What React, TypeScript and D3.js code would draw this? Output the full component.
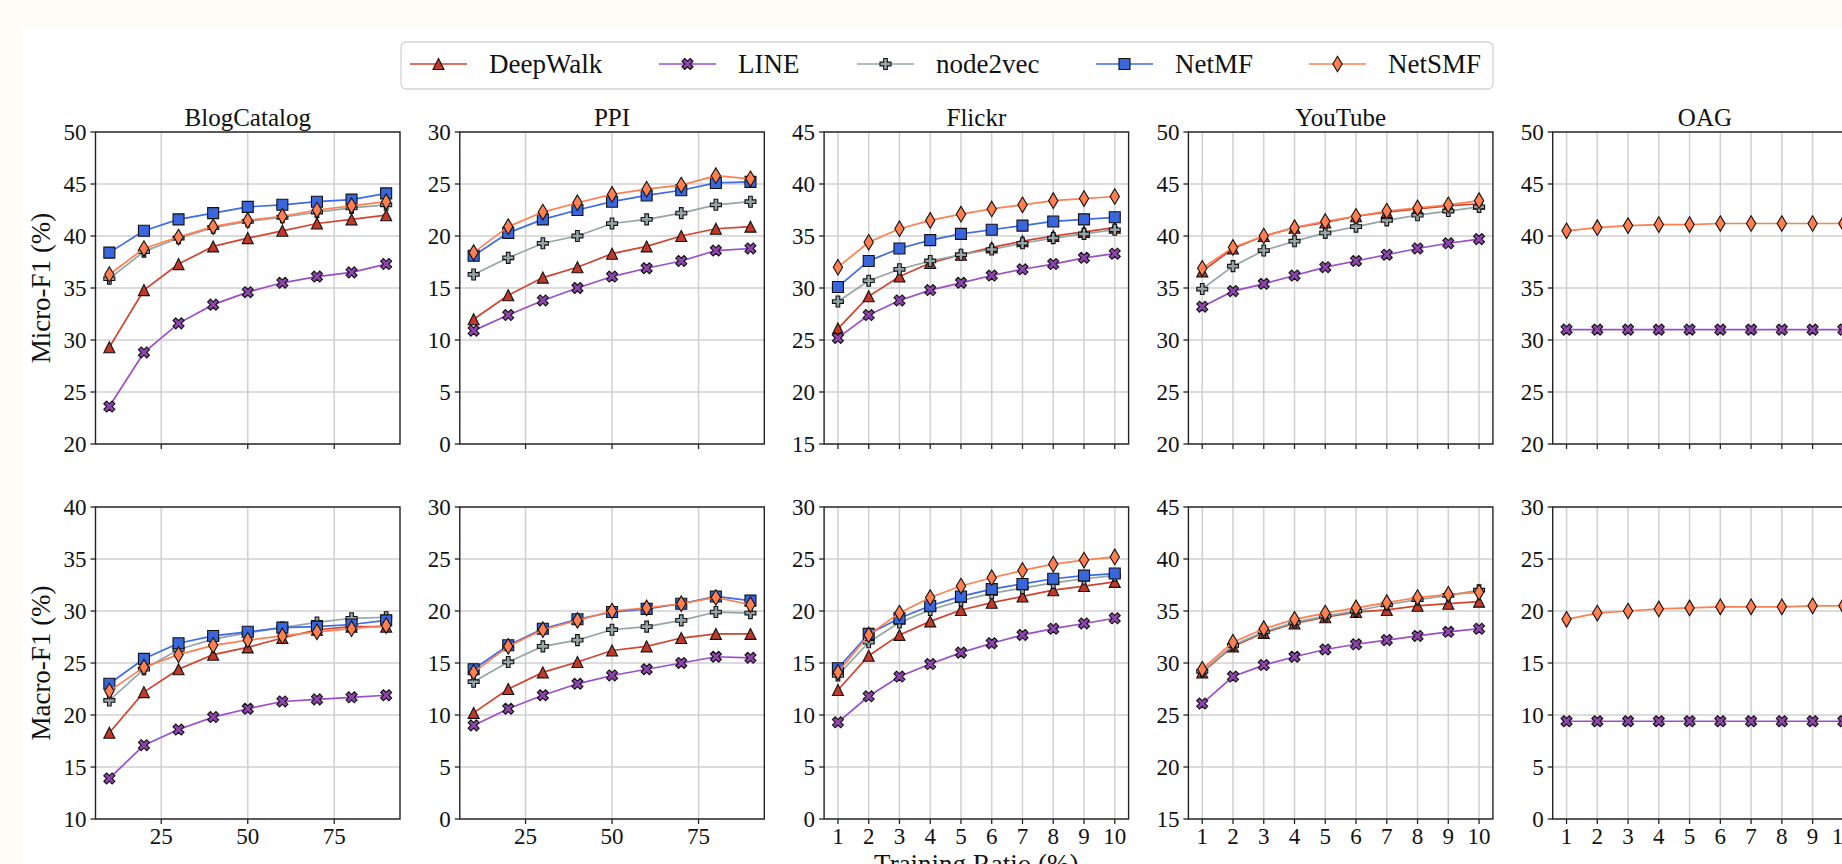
import React from "react";
import * as d3 from "d3";

// ---------- data ----------
const METHODS = ["DeepWalk", "LINE", "node2vec", "NetMF", "NetSMF"];
const DATASETS = ["BlogCatalog", "PPI", "Flickr", "YouTube", "OAG"];
const RATIO_LARGE = [10, 20, 30, 40, 50, 60, 70, 80, 90];
const RATIO_SMALL = [1, 2, 3, 4, 5, 6, 7, 8, 9, 10];
const TICKS_LARGE = [25, 50, 75];
const TICKS_SMALL = [1, 2, 3, 4, 5, 6, 7, 8, 9, 10];

const MICRO_Y_RANGES = [[20, 50], [0, 30], [15, 45], [20, 50], [20, 50]];
const MACRO_Y_RANGES = [[10, 40], [0, 30], [0, 30], [15, 45], [0, 30]];
const MICRO_Y_TICKS = [
  [20, 25, 30, 35, 40, 45, 50],
  [0, 5, 10, 15, 20, 25, 30],
  [15, 20, 25, 30, 35, 40, 45],
  [20, 25, 30, 35, 40, 45, 50],
  [20, 25, 30, 35, 40, 45, 50],
];
const MACRO_Y_TICKS = [
  [10, 15, 20, 25, 30, 35, 40],
  [0, 5, 10, 15, 20, 25, 30],
  [0, 5, 10, 15, 20, 25, 30],
  [15, 20, 25, 30, 35, 40, 45],
  [0, 5, 10, 15, 20, 25, 30],
];

// series order: DeepWalk, LINE, node2vec, NetMF, NetSMF (null = not run)
const blogCatalogMicro = [
  [29.3, 34.8, 37.3, 39.0, 39.8, 40.5, 41.2, 41.6, 42.0],
  [23.6, 28.8, 31.6, 33.4, 34.6, 35.5, 36.1, 36.5, 37.3],
  [35.9, 38.5, 39.8, 40.8, 41.4, 41.8, 42.3, 42.7, 43.0],
  [38.4, 40.5, 41.6, 42.2, 42.8, 43.0, 43.3, 43.5, 44.1],
  [36.3, 38.8, 39.9, 40.9, 41.5, 41.9, 42.5, 42.9, 43.3],
];
const ppiMicro = [
  [12.0, 14.3, 16.0, 17.0, 18.3, 19.0, 20.0, 20.7, 20.9],
  [10.9, 12.4, 13.8, 15.0, 16.1, 16.9, 17.6, 18.6, 18.8],
  [16.3, 17.9, 19.3, 20.0, 21.2, 21.6, 22.2, 23.0, 23.3],
  [18.1, 20.3, 21.6, 22.5, 23.3, 23.9, 24.4, 25.1, 25.2],
  [18.4, 20.9, 22.3, 23.2, 24.0, 24.5, 24.9, 25.8, 25.5],
];
const flickrMicro = [
  [26.1, 29.2, 31.1, 32.4, 33.2, 33.9, 34.5, 35.0, 35.4, 35.8],
  [25.2, 27.4, 28.8, 29.8, 30.5, 31.2, 31.8, 32.3, 32.9, 33.3],
  [28.7, 30.7, 31.8, 32.6, 33.2, 33.7, 34.3, 34.8, 35.2, 35.6],
  [30.1, 32.6, 33.8, 34.6, 35.2, 35.6, 36.0, 36.4, 36.6, 36.8],
  [32.0, 34.4, 35.7, 36.5, 37.1, 37.6, 38.0, 38.4, 38.6, 38.8],
];
const youTubeMicro = [
  [36.6, 38.8, 40.0, 40.8, 41.3, 41.9, 42.3, 42.6, 42.9, 43.1],
  [33.2, 34.7, 35.4, 36.2, 37.0, 37.6, 38.2, 38.8, 39.3, 39.7],
  [34.9, 37.1, 38.6, 39.5, 40.3, 40.9, 41.5, 42.0, 42.4, 42.8],
  null,
  [36.9, 38.9, 40.0, 40.8, 41.4, 41.9, 42.4, 42.7, 43.0, 43.4],
];
const oagMicro = [
  null,
  [31.0, 31.0, 31.0, 31.0, 31.0, 31.0, 31.0, 31.0, 31.0, 31.0],
  null,
  null,
  [40.5, 40.8, 41.0, 41.1, 41.1, 41.2, 41.2, 41.2, 41.2, 41.2],
];

const blogCatalogMacro = [
  [18.3, 22.2, 24.4, 25.8, 26.5, 27.4, 28.2, 28.5, 28.5],
  [13.9, 17.1, 18.6, 19.8, 20.6, 21.3, 21.5, 21.7, 21.9],
  [21.4, 24.4, 26.3, 27.3, 27.9, 28.4, 28.9, 29.3, 29.4],
  [23.0, 25.4, 26.9, 27.6, 28.0, 28.4, 28.5, 28.7, 29.1],
  [22.3, 24.6, 25.8, 26.7, 27.2, 27.6, 28.0, 28.3, 28.6],
];
const ppiMacro = [
  [10.2, 12.5, 14.1, 15.1, 16.2, 16.6, 17.4, 17.8, 17.8],
  [9.0, 10.6, 11.9, 13.0, 13.8, 14.4, 15.0, 15.6, 15.5],
  [13.2, 15.1, 16.6, 17.2, 18.2, 18.5, 19.1, 19.9, 19.8],
  [14.4, 16.7, 18.3, 19.2, 19.9, 20.2, 20.7, 21.4, 21.0],
  [14.1, 16.6, 18.2, 19.1, 20.0, 20.3, 20.7, 21.3, 20.6],
];
const flickrMacro = [
  [12.4, 15.7, 17.7, 19.0, 20.1, 20.8, 21.4, 22.0, 22.4, 22.8],
  [9.3, 11.8, 13.7, 14.9, 16.0, 16.9, 17.7, 18.3, 18.8, 19.3],
  [13.8, 17.0, 18.9, 20.1, 21.0, 21.7, 22.2, 22.7, 23.1, 23.4],
  [14.5, 17.8, 19.3, 20.5, 21.4, 22.1, 22.6, 23.1, 23.4, 23.6],
  [14.1, 17.7, 19.8, 21.3, 22.4, 23.2, 23.9, 24.5, 24.9, 25.2],
];
const youTubeMacro = [
  [29.1, 31.6, 32.9, 33.8, 34.4, 34.9, 35.1, 35.5, 35.7, 35.9],
  [26.1, 28.7, 29.8, 30.6, 31.3, 31.8, 32.2, 32.6, 33.0, 33.3],
  [29.2, 31.7, 33.0, 33.9, 34.5, 35.0, 35.6, 36.1, 36.5, 37.0],
  null,
  [29.4, 32.0, 33.3, 34.2, 34.8, 35.3, 35.8, 36.3, 36.6, 36.8],
];
const oagMacro = [
  null,
  [9.4, 9.4, 9.4, 9.4, 9.4, 9.4, 9.4, 9.4, 9.4, 9.4],
  null,
  null,
  [19.2, 19.8, 20.0, 20.2, 20.3, 20.4, 20.4, 20.4, 20.5, 20.5],
];

const MICRO_DATA = [blogCatalogMicro, ppiMicro, flickrMicro, youTubeMicro, oagMicro];
const MACRO_DATA = [blogCatalogMacro, ppiMacro, flickrMacro, youTubeMacro, oagMacro];
const ROW_LABELS = ["Micro-F1 (%)", "Macro-F1 (%)"];

// ---------- style ----------
const LINE_COLORS = ["#d0432f", "#9b4dca", "#95a5a6", "#3b6be6", "#ff7f50"];
const MARKER_FILLS = ["#c0392b", "#8e44ad", "#95a5a6", "#3a66dd", "#ff7f50"];
const MARKER_TYPES = ["triangle", "xfilled", "plusfilled", "square", "thindiamond"];
const FONT = "'Liberation Serif', 'Times New Roman', Times, serif";

const W = 1842;
const H = 864;
const LEFT0 = 95.5;
const PITCH = 364.3;
const PW = 304.5;
const ROW_TOP = [132, 507];
const PH = 312;
const MS = 11;

function markerPath(type: string, s: number): string {
  const poly = (pts: number[][], k: number) =>
    "M" + pts.map((p) => `${(p[0] * k).toFixed(2)},${(p[1] * k).toFixed(2)}`).join("L") + "Z";
  switch (type) {
    case "triangle":
      return poly([[0, -0.5], [-0.5, 0.5], [0.5, 0.5]], s);
    case "square":
      return poly([[-0.5, -0.5], [0.5, -0.5], [0.5, 0.5], [-0.5, 0.5]], s);
    case "xfilled":
      return poly(
        [[-1, -2], [0, -1], [1, -2], [2, -1], [1, 0], [2, 1], [1, 2], [0, 1], [-1, 2], [-2, 1], [-1, 0], [-2, -1]],
        s / 4
      );
    case "plusfilled":
      return poly(
        [[-1, -3], [1, -3], [1, -1], [3, -1], [3, 1], [1, 1], [1, 3], [-1, 3], [-1, 1], [-3, 1], [-3, -1], [-1, -1]],
        s / 6
      );
    case "thindiamond": {
      const h = 0.7071 * s;
      const w = 0.6 * h;
      return `M0,${-h}L${w},0L0,${h}L${-w},0Z`;
    }
  }
  return "";
}

function Panel({ col, row }: { col: number; row: number }) {
  const left = LEFT0 + PITCH * col;
  const top = ROW_TOP[row];
  const large = col < 2;
  const xs = large ? RATIO_LARGE : RATIO_SMALL;
  const xTicks = large ? TICKS_LARGE : TICKS_SMALL;
  const xDom = large ? [6, 94] : [0.55, 10.45];
  const yDom = row === 0 ? MICRO_Y_RANGES[col] : MACRO_Y_RANGES[col];
  const yTicks = row === 0 ? MICRO_Y_TICKS[col] : MACRO_Y_TICKS[col];
  const data = row === 0 ? MICRO_DATA[col] : MACRO_DATA[col];

  const x = d3.scaleLinear().domain(xDom).range([left, left + PW]);
  const y = d3.scaleLinear().domain(yDom).range([top + PH, top]);
  const line = d3
    .line<number>()
    .x((_, i) => x(xs[i]))
    .y((d) => y(d));

  return (
    <g>
      {/* grid */}
      {xTicks.map((t) => (
        <line key={"gx" + t} x1={x(t)} x2={x(t)} y1={top} y2={top + PH} stroke="#d0d0d0" strokeWidth={1.5} />
      ))}
      {yTicks.map((t) => (
        <line key={"gy" + t} x1={left} x2={left + PW} y1={y(t)} y2={y(t)} stroke="#d0d0d0" strokeWidth={1.5} />
      ))}
      {/* series */}
      {data.map((vals, si) =>
        vals ? (
          <g key={"s" + si}>
            <path d={line(vals) || ""} fill="none" stroke={LINE_COLORS[si]} strokeWidth={1.7} />
            {vals.map((v, i) => (
              <path
                key={i}
                d={markerPath(MARKER_TYPES[si], MS)}
                transform={`translate(${x(xs[i])},${y(v)})`}
                fill={MARKER_FILLS[si]}
                stroke="#111"
                strokeWidth={1.1}
                strokeLinejoin="miter"
              />
            ))}
          </g>
        ) : null
      )}
      {/* frame */}
      <rect x={left} y={top} width={PW} height={PH} fill="none" stroke="#222" strokeWidth={1.4} />
      {/* ticks */}
      {xTicks.map((t) => (
        <line key={"tx" + t} x1={x(t)} x2={x(t)} y1={top + PH} y2={top + PH + 5} stroke="#222" strokeWidth={1.3} />
      ))}
      {yTicks.map((t) => (
        <line key={"ty" + t} x1={left - 5} x2={left} y1={y(t)} y2={y(t)} stroke="#222" strokeWidth={1.3} />
      ))}
      {/* tick labels */}
      {yTicks.map((t) => (
        <text
          key={"ly" + t}
          x={left - 9}
          y={y(t)}
          dy="0.34em"
          textAnchor="end"
          fontSize={23}
          fill="#111"
        >
          {t}
        </text>
      ))}
      {row === 1 &&
        xTicks.map((t) => (
          <text key={"lx" + t} x={x(t)} y={top + PH + 25} textAnchor="middle" fontSize={23} fill="#111">
            {t}
          </text>
        ))}
      {row === 0 && (
        <text x={left + PW / 2} y={top - 6} textAnchor="middle" fontSize={25} fill="#111">
          {DATASETS[col]}
        </text>
      )}
      {col === 0 && (
        <text
          transform={`translate(${left - 46},${top + PH / 2}) rotate(-90)`}
          textAnchor="middle"
          fontSize={27}
          fill="#111"
        >
          {ROW_LABELS[row]}
        </text>
      )}
    </g>
  );
}

const LEGEND_X = [410, 659, 857, 1096, 1309];

export default function App() {
  const cols = DATASETS.map((_, i) => i);
  const flickrCenter = LEFT0 + PITCH * 2 + PW / 2;
  return (
    <svg
      width={W}
      height={H}
      viewBox={`0 0 ${W} ${H}`}
      style={{ position: "absolute", left: 0, top: 0, display: "block" }}
      fontFamily={FONT}
    >
      <rect x={0} y={0} width={W} height={H} fill="#fdfcf7" />
      <rect x={23} y={28} width={W - 23} height={H - 28} fill="#ffffff" />
      {[0, 1].map((r) => cols.map((c) => <Panel key={`${r}-${c}`} col={c} row={r} />))}
      <text x={flickrCenter} y={ROW_TOP[1] + PH + 54} textAnchor="middle" fontSize={27} fill="#111">
        Training Ratio (%)
      </text>
      {/* legend */}
      <rect x={401} y={42} width={1092} height={47} rx={5} fill="#ffffff" stroke="#d4d4d4" strokeWidth={1.3} />
      {METHODS.map((m, i) => (
        <g key={m}>
          <line x1={LEGEND_X[i]} x2={LEGEND_X[i] + 57} y1={64} y2={64} stroke={LINE_COLORS[i]} strokeWidth={1.7} />
          <path
            d={markerPath(MARKER_TYPES[i], MS)}
            transform={`translate(${LEGEND_X[i] + 28.5},64)`}
            fill={MARKER_FILLS[i]}
            stroke="#111"
            strokeWidth={1.1}
          />
          <text x={LEGEND_X[i] + 79} y={73} fontSize={27} fill="#111">
            {m}
          </text>
        </g>
      ))}
    </svg>
  );
}
